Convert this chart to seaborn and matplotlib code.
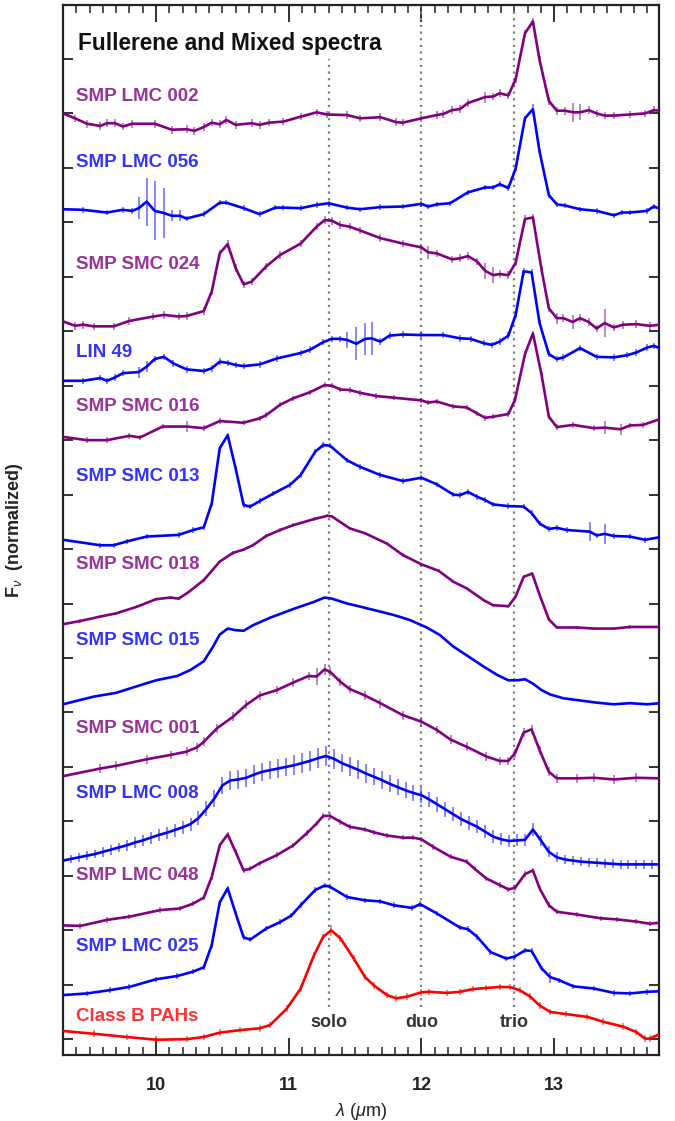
import numpy as np
import matplotlib
matplotlib.use("Agg")
import matplotlib.pyplot as plt
import seaborn as sns
from matplotlib.ticker import MultipleLocator, NullFormatter

# ---------------- data (wavelength in micron, flux in offset-normalized units) ----------------
x_classb = [9.30, 9.53, 9.78, 10.0, 10.23, 10.36, 10.48, 10.63, 10.78, 10.86, 10.985, 11.09, 11.19, 11.26,
            11.32, 11.39, 11.49, 11.575, 11.64, 11.74, 11.81, 11.89, 12.0, 12.06, 12.19, 12.29, 12.39, 12.49,
            12.59, 12.67, 12.74, 12.82, 12.89, 12.97, 13.09, 13.25, 13.37, 13.52, 13.62, 13.685, 13.72, 13.80]
y_classb = [0.15, 0.10, 0.04, -0.01, 0.0, 0.04, 0.12, 0.165, 0.20, 0.26, 0.56, 0.93, 1.54, 1.88,
            2.00, 1.85, 1.48, 1.14, 0.99, 0.81, 0.75, 0.78, 0.86, 0.87, 0.85, 0.87, 0.92, 0.94,
            0.96, 0.955, 0.90, 0.78, 0.62, 0.50, 0.46, 0.41, 0.32, 0.23, 0.13, 0.01, 0.01, 0.10]

x_lmc025 = [9.30, 9.48, 9.65, 9.80, 10.0, 10.16, 10.28, 10.36, 10.42, 10.48, 10.54, 10.60, 10.66, 10.71, 10.83,
            10.935, 11.02, 11.09, 11.20, 11.27, 11.31, 11.44, 11.575, 11.69, 11.79, 11.93, 11.99, 12.115, 12.29,
            12.35, 12.42, 12.52, 12.64, 12.705, 12.78, 12.83, 12.905, 12.97, 13.04, 13.145, 13.30, 13.45, 13.57,
            13.70, 13.80]
y_lmc025 = [0.81, 0.84, 0.90, 0.96, 1.10, 1.16, 1.24, 1.32, 1.73, 2.51, 2.77, 2.31, 1.87, 1.83, 2.03,
            2.15, 2.27, 2.46, 2.74, 2.82, 2.80, 2.61, 2.55, 2.53, 2.46, 2.41, 2.48, 2.31, 2.05,
            2.02, 1.88, 1.60, 1.48, 1.52, 1.63, 1.62, 1.30, 1.14, 1.08, 0.97, 0.93, 0.85, 0.84,
            0.87, 0.88]

x_lmc048 = [9.30, 9.43, 9.63, 9.80, 10.03, 10.18, 10.28, 10.36, 10.42, 10.48, 10.54, 10.60, 10.66, 10.71, 10.78,
            10.91, 11.035, 11.14, 11.21, 11.26, 11.31, 11.39, 11.46, 11.575, 11.64, 11.74, 11.86, 11.94, 12.0,
            12.09, 12.22, 12.34, 12.40, 12.49, 12.59, 12.655, 12.705, 12.78, 12.84, 12.89, 12.96, 13.02, 13.17,
            13.35, 13.47, 13.62, 13.72, 13.80]
y_lmc048 = [2.09, 2.08, 2.19, 2.25, 2.37, 2.40, 2.49, 2.60, 2.98, 3.56, 3.76, 3.44, 3.10, 3.13, 3.23,
            3.38, 3.56, 3.79, 3.96, 4.10, 4.10, 3.99, 3.90, 3.85, 3.80, 3.74, 3.70, 3.70, 3.67,
            3.53, 3.35, 3.26, 3.13, 2.95, 2.83, 2.75, 2.78, 3.03, 3.10, 2.77, 2.46, 2.34, 2.29,
            2.22, 2.20, 2.16, 2.12, 2.14]

x_lmc008 = [9.30, 9.36, 9.42, 9.48, 9.54, 9.60, 9.66, 9.72, 9.78, 9.84, 9.90, 9.96, 10.02, 10.08, 10.14,
            10.20, 10.26, 10.32, 10.38, 10.44, 10.50, 10.56, 10.62, 10.68, 10.74, 10.80, 10.86, 10.92, 10.98,
            11.04, 11.10, 11.16, 11.22, 11.28, 11.34, 11.40, 11.46, 11.52, 11.58, 11.64, 11.70, 11.76, 11.82,
            11.88, 11.94, 12.00, 12.06, 12.12, 12.18, 12.24, 12.30, 12.36, 12.42, 12.48, 12.54, 12.60, 12.66,
            12.72, 12.78, 12.84, 12.90, 12.96, 13.02, 13.08, 13.14, 13.20, 13.26, 13.32, 13.38, 13.44, 13.50,
            13.56, 13.62, 13.68, 13.74, 13.80]
y_lmc008 = [3.28, 3.31, 3.34, 3.37, 3.40, 3.44, 3.48, 3.52, 3.56, 3.61, 3.65, 3.70, 3.75, 3.79, 3.84,
            3.89, 3.95, 4.06, 4.23, 4.42, 4.66, 4.75, 4.77, 4.80, 4.86, 4.91, 4.94, 4.97, 5.00,
            5.03, 5.07, 5.11, 5.16, 5.20, 5.15, 5.07, 5.01, 4.95, 4.88, 4.82, 4.76, 4.69, 4.63,
            4.57, 4.52, 4.48, 4.40, 4.31, 4.22, 4.13, 4.04, 3.97, 3.90, 3.81, 3.72, 3.67, 3.64,
            3.65, 3.66, 3.85, 3.65, 3.44, 3.34, 3.30, 3.28, 3.26, 3.25, 3.24, 3.23, 3.22, 3.21,
            3.21, 3.21, 3.21, 3.21, 3.21]
e_lmc008 = [0.07, 0.07, 0.08, 0.08, 0.08, 0.09, 0.09, 0.09, 0.10, 0.10, 0.10, 0.11, 0.11, 0.11, 0.12,
            0.12, 0.12, 0.13, 0.14, 0.15, 0.16, 0.17, 0.17, 0.17, 0.17, 0.17, 0.17, 0.17, 0.17,
            0.18, 0.18, 0.18, 0.18, 0.18, 0.18, 0.17, 0.17, 0.17, 0.17, 0.16, 0.16, 0.16, 0.15,
            0.15, 0.15, 0.15, 0.14, 0.14, 0.14, 0.13, 0.13, 0.13, 0.12, 0.12, 0.12, 0.11, 0.11,
            0.11, 0.11, 0.12, 0.10, 0.10, 0.09, 0.09, 0.09, 0.08, 0.08, 0.08, 0.08, 0.08, 0.08,
            0.08, 0.08, 0.08, 0.08, 0.08]

x_smc001 = [9.30, 9.58, 9.70, 9.93, 10.11, 10.23, 10.31, 10.36, 10.46, 10.58, 10.68, 10.78, 10.91, 11.035,
            11.15, 11.21, 11.27, 11.31, 11.39, 11.46, 11.575, 11.69, 11.86, 12.0, 12.115, 12.22, 12.34, 12.49,
            12.59, 12.655, 12.705, 12.77, 12.83, 12.89, 12.96, 13.02, 13.17, 13.30, 13.45, 13.62, 13.80]
y_smc001 = [4.83, 4.97, 5.02, 5.14, 5.22, 5.28, 5.36, 5.46, 5.71, 5.92, 6.14, 6.31, 6.41, 6.55,
            6.67, 6.66, 6.79, 6.75, 6.56, 6.43, 6.31, 6.17, 5.95, 5.83, 5.68, 5.50, 5.37, 5.19,
            5.11, 5.11, 5.25, 5.63, 5.69, 5.31, 4.91, 4.79, 4.79, 4.80, 4.77, 4.80, 4.79]

x_smc015 = [9.30, 9.53, 9.70, 9.855, 10.0, 10.16, 10.26, 10.36, 10.43, 10.48, 10.54, 10.60, 10.66, 10.73,
            10.86, 11.035, 11.19, 11.27, 11.325, 11.44, 11.51, 11.66, 11.79, 11.91, 12.04, 12.14, 12.24,
            12.34, 12.47, 12.57, 12.655, 12.72, 12.78, 12.84, 12.905, 12.97, 13.07, 13.195, 13.32, 13.45,
            13.57, 13.70, 13.80]
y_smc015 = [6.15, 6.29, 6.36, 6.48, 6.59, 6.67, 6.78, 6.94, 7.21, 7.43, 7.54, 7.51, 7.50, 7.60,
            7.74, 7.90, 8.03, 8.11, 8.09, 8.00, 7.96, 7.87, 7.79, 7.70, 7.56, 7.42, 7.21,
            7.05, 6.84, 6.69, 6.59, 6.59, 6.61, 6.53, 6.41, 6.33, 6.26, 6.22, 6.18, 6.15,
            6.17, 6.15, 6.17]

x_smc018 = [9.30, 9.43, 9.58, 9.70, 9.855, 10.0, 10.11, 10.17, 10.24, 10.36, 10.48, 10.58, 10.66, 10.73,
            10.83, 10.935, 11.035, 11.19, 11.29, 11.325, 11.46, 11.575, 11.74, 11.86, 12.0, 12.13, 12.24,
            12.34, 12.47, 12.54, 12.655, 12.71, 12.77, 12.835, 12.89, 12.96, 13.02, 13.17, 13.30, 13.45,
            13.57, 13.80]
y_smc018 = [7.62, 7.68, 7.76, 7.82, 7.94, 8.08, 8.11, 8.09, 8.20, 8.43, 8.77, 8.93, 8.99, 9.07,
            9.24, 9.35, 9.44, 9.55, 9.61, 9.60, 9.38, 9.29, 9.10, 8.89, 8.72, 8.60, 8.40,
            8.28, 8.06, 7.97, 7.95, 8.13, 8.49, 8.55, 8.16, 7.71, 7.56, 7.56, 7.54, 7.54,
            7.57, 7.57]

x_smc013 = [9.30, 9.58, 9.68, 9.78, 9.93, 10.17, 10.28, 10.36, 10.42, 10.48, 10.54, 10.60, 10.66, 10.71,
            10.78, 10.885, 11.01, 11.09, 11.20, 11.26, 11.31, 11.44, 11.537, 11.69, 11.86, 12.0, 12.115,
            12.24, 12.29, 12.35, 12.42, 12.48, 12.54, 12.65, 12.77, 12.83, 12.89, 12.96, 13.02, 13.095,
            13.27, 13.32, 13.38, 13.45, 13.57, 13.685, 13.80]
y_smc013 = [9.17, 9.07, 9.07, 9.14, 9.23, 9.26, 9.35, 9.40, 9.84, 10.85, 11.09, 10.48, 9.81, 9.78,
            9.88, 10.02, 10.18, 10.36, 10.79, 10.91, 10.90, 10.63, 10.51, 10.36, 10.25, 10.31, 10.19,
            10.00, 9.99, 10.05, 9.96, 9.90, 9.82, 9.79, 9.78, 9.66, 9.47, 9.37, 9.39, 9.35,
            9.32, 9.25, 9.28, 9.24, 9.23, 9.17, 9.22]

x_smc016 = [9.30, 9.48, 9.63, 9.80, 9.88, 10.05, 10.23, 10.36, 10.48, 10.66, 10.78, 10.83, 10.935, 11.035,
            11.16, 11.27, 11.325, 11.39, 11.46, 11.537, 11.66, 11.79, 12.0, 12.05, 12.115, 12.24, 12.34,
            12.42, 12.48, 12.54, 12.655, 12.705, 12.78, 12.84, 12.905, 12.96, 13.02, 13.145, 13.30, 13.38,
            13.50, 13.57, 13.67, 13.80]
y_smc016 = [11.06, 11.00, 11.00, 11.08, 11.05, 11.25, 11.25, 11.22, 11.35, 11.32, 11.40, 11.46, 11.65, 11.77,
            11.88, 12.01, 12.00, 11.93, 11.92, 11.87, 11.81, 11.78, 11.73, 11.69, 11.71, 11.62, 11.60,
            11.49, 11.41, 11.43, 11.48, 11.74, 12.58, 12.96, 12.20, 11.43, 11.24, 11.28, 11.22, 11.23,
            11.20, 11.27, 11.28, 11.39]

x_lin49 = [9.30, 9.45, 9.58, 9.63, 9.69, 9.75, 9.87, 9.93, 9.99, 10.06, 10.13, 10.23, 10.36, 10.42, 10.48,
           10.54, 10.60, 10.66, 10.78, 10.91, 11.09, 11.16, 11.26, 11.325, 11.39, 11.44, 11.51, 11.575, 11.625,
           11.69, 11.76, 11.86, 12.0, 12.165, 12.29, 12.37, 12.47, 12.53, 12.59, 12.655, 12.71, 12.77, 12.83,
           12.89, 12.96, 13.02, 13.07, 13.195, 13.32, 13.45, 13.55, 13.62, 13.70, 13.75, 13.80]
y_lin49 = [12.09, 12.09, 12.14, 12.09, 12.15, 12.23, 12.25, 12.35, 12.49, 12.53, 12.41, 12.30, 12.27, 12.32, 12.44,
           12.42, 12.38, 12.36, 12.39, 12.50, 12.60, 12.66, 12.80, 12.86, 12.86, 12.84, 12.77, 12.86, 12.87,
           12.81, 12.92, 12.94, 12.93, 12.93, 12.87, 12.86, 12.78, 12.75, 12.81, 12.92, 13.30, 14.10, 14.08,
           13.15, 12.58, 12.49, 12.52, 12.69, 12.53, 12.52, 12.56, 12.61, 12.70, 12.73, 12.69]

x_smc024 = [9.30, 9.39, 9.45, 9.53, 9.68, 9.80, 9.98, 10.06, 10.17, 10.23, 10.36, 10.42, 10.48, 10.54, 10.60,
            10.66, 10.72, 10.83, 10.935, 11.09, 11.21, 11.27, 11.325, 11.39, 11.46, 11.537, 11.69, 11.86, 12.0,
            12.05, 12.115, 12.23, 12.29, 12.35, 12.42, 12.48, 12.54, 12.59, 12.655, 12.71, 12.78, 12.84, 12.905,
            12.96, 13.02, 13.07, 13.14, 13.195, 13.26, 13.32, 13.38, 13.45, 13.52, 13.62, 13.72, 13.80]
y_smc024 = [13.18, 13.10, 13.12, 13.09, 13.09, 13.19, 13.27, 13.30, 13.27, 13.28, 13.37, 13.73, 14.43, 14.60, 14.16,
            13.86, 13.91, 14.19, 14.40, 14.61, 14.92, 15.04, 15.03, 14.95, 14.92, 14.85, 14.71, 14.61, 14.54,
            14.45, 14.43, 14.32, 14.34, 14.38, 14.28, 14.11, 14.03, 14.05, 14.03, 14.26, 15.06, 15.09, 14.13,
            13.42, 13.24, 13.24, 13.17, 13.24, 13.17, 13.05, 13.15, 13.07, 13.12, 13.13, 13.10, 13.12]

x_lmc056 = [9.30, 9.45, 9.63, 9.75, 9.82, 9.87, 9.93, 9.99, 10.06, 10.12, 10.18, 10.23, 10.36, 10.48, 10.53,
            10.66, 10.78, 10.90, 10.96, 11.09, 11.21, 11.30, 11.44, 11.537, 11.69, 11.86, 12.0, 12.05, 12.115,
            12.215, 12.35, 12.48, 12.54, 12.59, 12.655, 12.71, 12.78, 12.84, 12.89, 12.96, 13.02, 13.08, 13.195,
            13.32, 13.45, 13.51, 13.57, 13.70, 13.75, 13.80]
y_lmc056 = [15.24, 15.23, 15.18, 15.23, 15.21, 15.26, 15.38, 15.21, 15.17, 15.12, 15.12, 15.07, 15.15, 15.36, 15.36,
            15.26, 15.15, 15.27, 15.27, 15.26, 15.32, 15.35, 15.27, 15.24, 15.28, 15.29, 15.34, 15.29, 15.33,
            15.35, 15.55, 15.64, 15.64, 15.70, 15.63, 15.99, 16.91, 17.08, 16.30, 15.50, 15.33, 15.31, 15.24,
            15.21, 15.13, 15.18, 15.18, 15.21, 15.29, 15.25]

x_lmc002 = [9.30, 9.39, 9.48, 9.58, 9.63, 9.69, 9.75, 9.82, 9.99, 10.12, 10.23, 10.29, 10.36, 10.42, 10.48,
            10.53, 10.60, 10.72, 10.78, 10.85, 10.96, 11.09, 11.21, 11.29, 11.44, 11.537, 11.69, 11.81, 11.86,
            12.0, 12.115, 12.165, 12.23, 12.29, 12.35, 12.48, 12.54, 12.59, 12.655, 12.71, 12.78, 12.84, 12.89,
            12.96, 13.02, 13.08, 13.145, 13.195, 13.26, 13.32, 13.38, 13.45, 13.57, 13.685, 13.75, 13.80]
y_lmc002 = [17.00, 16.91, 16.81, 16.77, 16.82, 16.82, 16.76, 16.81, 16.81, 16.70, 16.71, 16.68, 16.75, 16.83, 16.80,
            16.88, 16.79, 16.82, 16.79, 16.83, 16.85, 16.94, 17.02, 16.98, 16.97, 16.91, 16.93, 16.84, 16.83,
            16.91, 16.97, 16.99, 17.06, 17.08, 17.19, 17.30, 17.31, 17.37, 17.33, 17.63, 18.47, 18.69, 17.98,
            17.23, 17.05, 17.05, 17.02, 17.02, 17.06, 17.00, 16.96, 16.96, 16.98, 17.00, 17.06, 17.05]

# typical error-bar half size per spectrum, plus the few larger ones (wavelength, half size)
names = ["SMP LMC 002", "SMP LMC 056", "SMP SMC 024", "LIN 49", "SMP SMC 016", "SMP SMC 013",
         "SMP SMC 018", "SMP SMC 015", "SMP SMC 001", "SMP LMC 008", "SMP LMC 048", "SMP LMC 025",
         "Class B PAHs"]
label_y = [17.31, 16.10, 14.22, 12.61, 11.62, 10.33, 8.71, 7.32, 5.71, 4.52, 3.01, 1.71, 0.42]
base_err = [0.07, 0.05, 0.07, 0.06, 0.05, 0.05, 0.03, 0.0, 0.08, None, 0.05, 0.05, 0.06]
big_err_lmc002 = [(12.48, 0.10), (13.145, 0.18), (13.195, 0.15)]
big_err_lmc056 = [(9.87, 0.20), (9.93, 0.44), (9.99, 0.54), (10.06, 0.46), (10.12, 0.10), (10.18, 0.10),
                  (12.84, 0.10)]
big_err_smc024 = [(12.05, 0.12), (12.48, 0.15), (12.54, 0.15), (13.02, 0.10), (13.14, 0.12), (13.38, 0.25)]
big_err_lin49 = [(9.87, 0.10), (9.93, 0.10), (11.44, 0.15), (11.51, 0.30), (11.575, 0.30), (11.625, 0.30)]
big_err_smc016 = [(9.30, 0.10), (10.23, 0.10), (13.38, 0.12), (13.45, 0.10)]
big_err_smc013 = [(13.27, 0.18), (13.38, 0.18)]
big_err_smc001 = [(11.21, 0.15), (11.27, 0.10)]
big_err_lmc025 = [(12.97, 0.10)]
big_err_classb = [(11.32, 0.10)]

feature_x = [11.3, 12.0, 12.7]
feature_names = ["solo", "duo", "trio"]
feature_top = [18.0, 19.0, 19.0]
xtick_vals = [10, 11, 12, 13]

PURPLE = "#800080"
BLUE = "#0000FF"
RED = "#FF0000"

series = [
    (x_lmc002, y_lmc002, PURPLE, big_err_lmc002),
    (x_lmc056, y_lmc056, BLUE, big_err_lmc056),
    (x_smc024, y_smc024, PURPLE, big_err_smc024),
    (x_lin49, y_lin49, BLUE, big_err_lin49),
    (x_smc016, y_smc016, PURPLE, big_err_smc016),
    (x_smc013, y_smc013, BLUE, big_err_smc013),
    (x_smc018, y_smc018, PURPLE, []),
    (x_smc015, y_smc015, BLUE, []),
    (x_smc001, y_smc001, PURPLE, big_err_smc001),
    (x_lmc008, y_lmc008, BLUE, []),
    (x_lmc048, y_lmc048, PURPLE, []),
    (x_lmc025, y_lmc025, BLUE, big_err_lmc025),
    (x_classb, y_classb, RED, big_err_classb),
]

# ---------------- figure ----------------
sns.set_theme(style="ticks")
plt.rcParams["font.family"] = ["Liberation Sans", "DejaVu Sans"]
plt.rcParams["mathtext.fontset"] = "custom"
plt.rcParams["mathtext.rm"] = "Liberation Sans"
plt.rcParams["mathtext.it"] = "Liberation Sans:italic"
plt.rcParams["mathtext.bf"] = "Liberation Sans:bold"

fig = plt.figure(figsize=(6.75, 11.21), dpi=100)
ax = fig.add_axes([0.0929, 0.0589, 0.8834, 0.9366])

TXT = "#222222"

# feature lines
ax.vlines(feature_x, 0.59, feature_top, colors="#7f7f7f", linestyles=(0, (1.0, 2.0)), lw=1.6, zorder=1)
for fx, fn in zip(feature_x, feature_names):
    ax.text(fx, 0.31, fn, ha="center", va="center", fontsize=13, fontweight="bold", color="#333333")

for i, (xs, ys, col, bigs) in enumerate(series):
    xs = np.asarray(xs)
    ys = np.asarray(ys)
    if names[i] == "SMP LMC 008":
        err = np.asarray(e_lmc008, dtype=float)
    else:
        err = np.full(len(xs), base_err[i], dtype=float)
    for bx, be in bigs:
        err[np.argmin(np.abs(xs - bx))] = be
    if np.any(err > 0):
        ax.errorbar(xs, ys, yerr=err, fmt="none", ecolor=col, elinewidth=1.1, alpha=0.6, capsize=0, zorder=2)
    sns.lineplot(x=xs, y=ys, ax=ax, color=col, lw=1.9, sort=False, estimator=None, zorder=3)
    ax.text(9.40, label_y[i], names[i], ha="left", va="center", fontsize=13.5, fontweight="bold",
            color=col, alpha=0.8)

ax.text(9.41, 18.29, "Fullerene and Mixed spectra", ha="left", va="center", fontsize=16.3,
        fontweight="bold", color="#111111")

ax.set_xlim(9.297, 13.79)
ax.set_ylim(-0.29, 18.99)

ax.set_xticks(xtick_vals)
ax.xaxis.set_minor_locator(MultipleLocator(0.1))
ax.yaxis.set_major_locator(MultipleLocator(1))
ax.yaxis.set_major_formatter(NullFormatter())
ax.tick_params(axis="x", which="major", direction="in", length=12, width=1.3, top=True, bottom=True,
               labelsize=13, colors=TXT, pad=16)
ax.tick_params(axis="x", which="minor", direction="in", length=6, width=1.1, top=True, bottom=True,
               colors=TXT)
ax.tick_params(axis="y", which="major", direction="in", length=7, width=1.3, left=True, right=True,
               colors=TXT)
for lab in ax.get_xticklabels():
    lab.set_fontweight("bold")
for sp in ax.spines.values():
    sp.set_visible(True)
    sp.set_linewidth(1.6)
    sp.set_color(TXT)

ax.set_xlabel(r"$\lambda$ ($\mu$m)", fontsize=13, color=TXT, labelpad=5)
ax.set_ylabel(r"$\mathbf{F}_{\nu}$  (normalized)", fontsize=13, fontweight="bold", color=TXT)
ax.yaxis.set_label_coords(-0.063, 0.5)

fig.savefig("out.png", dpi=100)
